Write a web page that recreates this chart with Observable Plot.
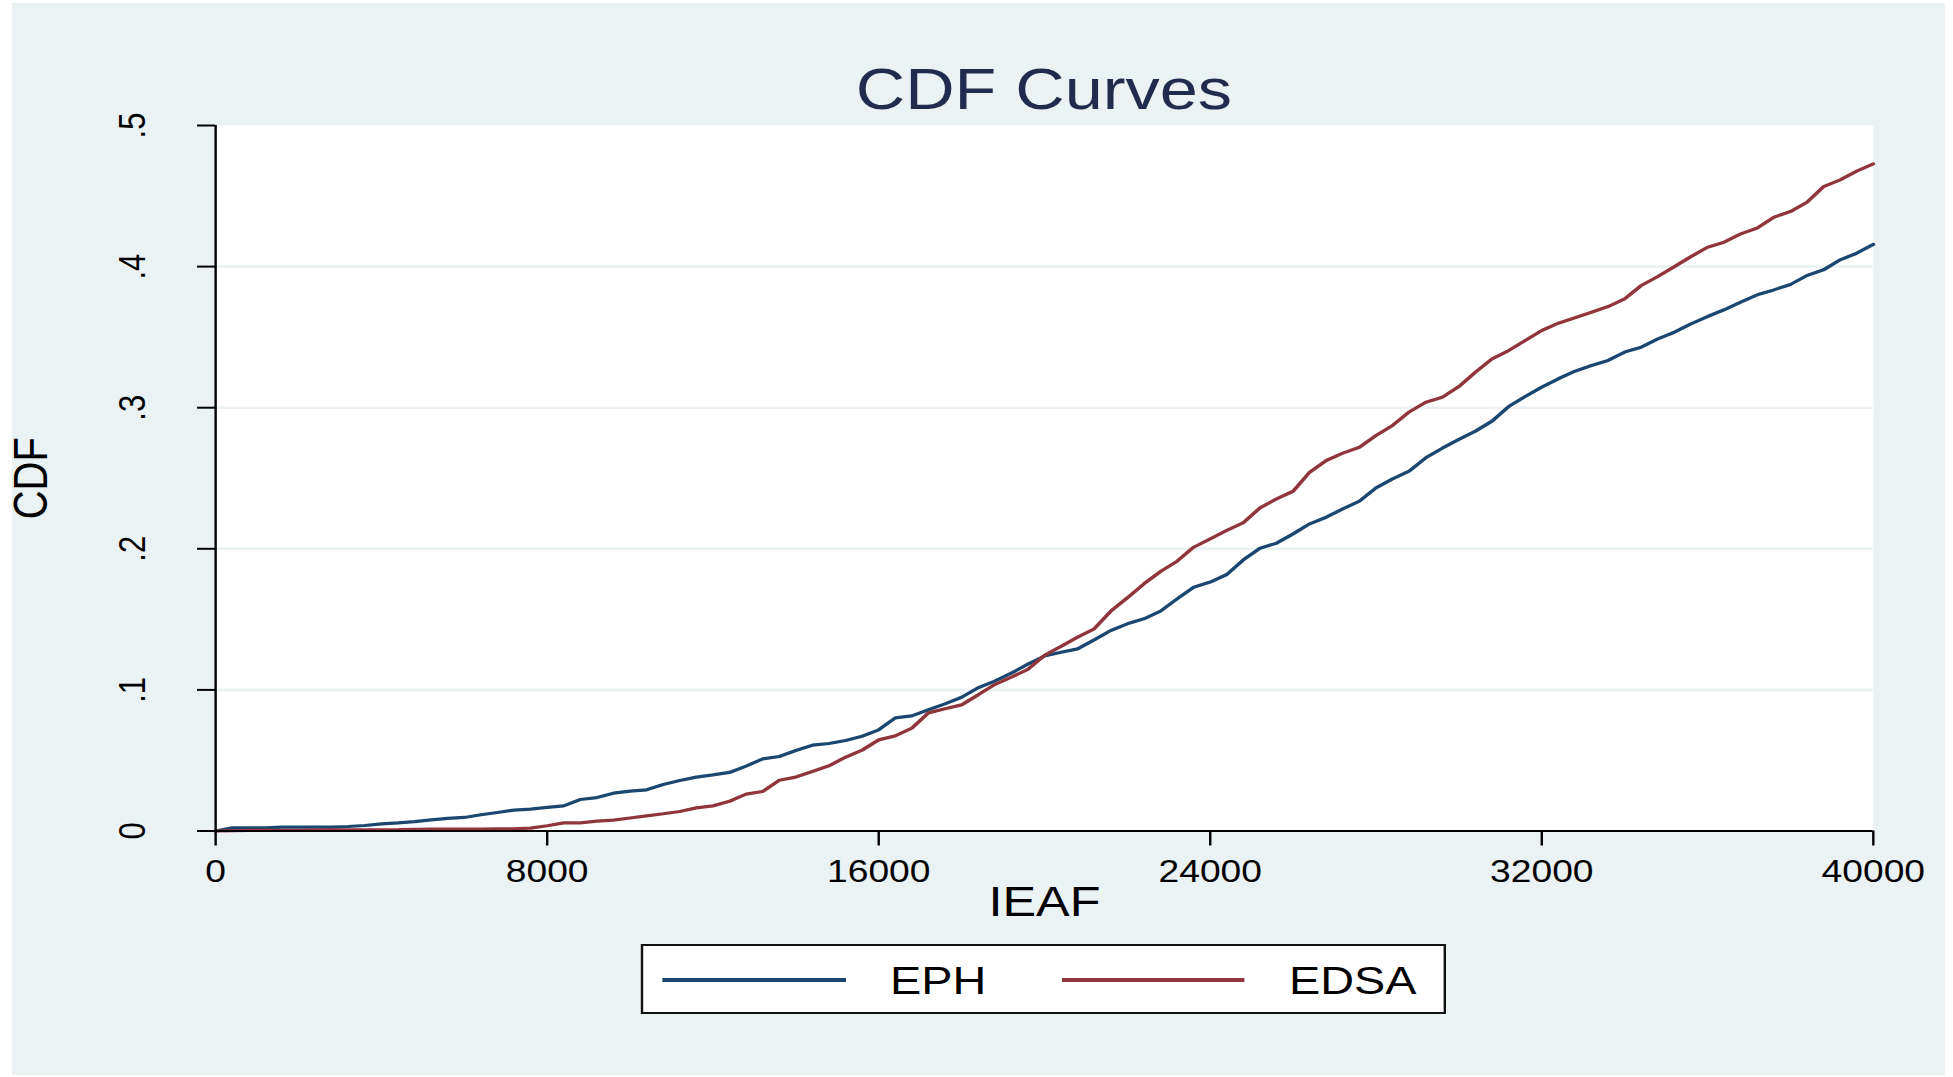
<!DOCTYPE html>
<html>
<head>
<meta charset="utf-8">
<script src="https://cdn.jsdelivr.net/npm/d3@7"></script>
<script src="https://cdn.jsdelivr.net/npm/@observablehq/plot@0.6"></script>
<style>
html, body { margin: 0; padding: 0; background: #ffffff; width: 1953px; height: 1077px; overflow: hidden;
  font-family: "Liberation Sans", Arial, Helvetica, sans-serif; }
#panel { position: absolute; left: 12px; top: 3px; width: 1933px; height: 1072px; background: #eaf2f3; }
#stage { position: absolute; left: 0; top: 0; width: 1627.5px; height: 1077px; transform: scaleX(1.2); transform-origin: 0 0; }
#title { position: absolute; left: 179.2px; width: 1381.4px; top: 60.7px; text-align: center;
  font-size: 57px; line-height: 57px; color: #1f2c4d; white-space: nowrap; }
#chart { position: absolute; left: 0; top: 100px; }
#legend { position: absolute; left: 534.4px; top: 944.3px; width: 670.3px; height: 69.4px; box-sizing: border-box;
  border: 2px solid #111; background: #fff; }
.lg-line { position: absolute; top: 31.7px; width: 152.3px; height: 4px; }
.lg-text { position: absolute; top: 14.7px; font-size: 39px; line-height: 39px; color: #000; white-space: nowrap; }
</style>
</head>
<body>
<div id="panel"></div>
<div id="stage">
  <div id="title">CDF Curves</div>
  <div id="chart"></div>
  <div id="legend"></div>
</div>
<script>
// ---- data ----
const xValues = [0,400,800,1200,1600,2000,2400,2800,3200,3600,4000,4400,4800,5200,5600,6000,6400,6800,7200,7600,
  8000,8400,8800,9200,9600,10000,10400,10800,11200,11600,12000,12400,12800,13200,13600,14000,14400,14800,15200,15600,
  16000,16400,16800,17200,17600,18000,18400,18800,19200,19600,20000,20400,20800,21200,21600,22000,22400,22800,23200,23600,
  24000,24400,24800,25200,25600,26000,26400,26800,27200,27600,28000,28400,28800,29200,29600,30000,30400,30800,31200,31600,
  32000,32400,32800,33200,33600,34000,34400,34800,35200,35600,36000,36400,36800,37200,37600,38000,38400,38800,39200,39600,40000];

const ephCdf = [0,0.0022,0.0022,0.0022,0.0027,0.0027,0.0027,0.0027,0.0032,0.0039,0.0051,0.0058,0.0067,0.0079,0.0089,0.0096,
  0.0115,0.0131,0.0148,0.0155,0.0167,0.0178,0.0223,0.0237,0.0268,0.0283,0.0292,0.033,0.0358,0.0382,0.0398,0.0415,0.046,
  0.0511,0.0528,0.057,0.0608,0.062,0.0641,0.0672,0.0717,0.0802,0.0816,0.0859,0.0901,0.0948,0.1015,0.1062,0.1119,0.1182,
  0.124,0.1267,0.1291,0.1355,0.1421,0.1468,0.1504,0.1558,0.1645,0.1728,0.1764,0.1818,0.1922,0.2004,0.204,0.2106,0.2177,
  0.2224,0.2283,0.2338,0.2432,0.2496,0.255,0.2645,0.2713,0.2775,0.2834,0.2905,0.3008,0.3079,0.3146,0.3205,0.3259,0.3299,
  0.3335,0.3394,0.3429,0.3488,0.3535,0.3594,0.3646,0.3694,0.3748,0.38,0.3835,0.3873,0.3937,0.3977,0.4048,0.4095,0.4157];

const edsaCdf = [0,0.0003,0.0004,0.0004,0.0005,0.0005,0.0007,0.0008,0.0008,0.0008,0.0009,0.001,0.0012,0.0013,0.0013,0.0014,
  0.0014,0.0015,0.0016,0.002,0.0037,0.0058,0.0058,0.007,0.0077,0.0092,0.0107,0.0122,0.0138,0.0164,0.0178,0.0211,0.0261,
  0.028,0.036,0.0382,0.0422,0.0462,0.0523,0.0573,0.0646,0.0674,0.0729,0.0837,0.0866,0.0894,0.0965,0.1038,0.109,0.1145,
  0.1245,0.1308,0.1374,0.1433,0.1558,0.1653,0.1752,0.1839,0.1912,0.2011,0.2071,0.213,0.2186,0.229,0.2354,0.2408,0.2543,
  0.2626,0.2678,0.272,0.2803,0.2874,0.297,0.3039,0.3074,0.315,0.3252,0.3346,0.3405,0.3476,0.3547,0.3599,0.3637,0.3677,
  0.3717,0.3771,0.3866,0.393,0.4,0.4071,0.4137,0.4173,0.4232,0.4274,0.435,0.439,0.4456,0.4567,0.4615,0.4677,0.4728];

const seriesNames = ["EPH", "EDSA"];
const seriesColors = ["#1a476f", "#90353b"];
const xTicks = [0, 8000, 16000, 24000, 32000, 40000];
const xTickLabels = ["0", "8000", "16000", "24000", "32000", "40000"];
const yTicks = [0, 0.1, 0.2, 0.3, 0.4, 0.5];
const yTickLabels = ["0", ".1", ".2", ".3", ".4", ".5"];
const gridValues = [0.1, 0.2, 0.3, 0.4];
const xTitle = "IEAF";
const yTitle = "CDF";

// ---- build table ----
const rows = [];
[ephCdf, edsaCdf].forEach((vals, s) => {
  xValues.forEach((x, i) => rows.push({ x, y: vals[i], series: seriesNames[s] }));
});
const yTickData = yTicks.map((v, i) => ({ v, label: yTickLabels[i] }));

const font = "Liberation Sans, Arial, Helvetica, sans-serif";
const chart = Plot.plot({
  width: 1627.5,
  height: 830,
  marginLeft: 179.2,
  marginRight: 66.9,
  marginTop: 25,
  marginBottom: 99.5,
  style: { background: "transparent", overflow: "visible", fontFamily: font, color: "#000" },
  x: { domain: [0, 40000] },
  y: { domain: [0, 0.5] },
  color: { domain: seriesNames, range: seriesColors },
  marks: [
    Plot.frame({ fill: "#ffffff", stroke: null }),
    Plot.ruleY(gridValues, { stroke: "#eaf2f3", strokeWidth: 2.6 }),
    Plot.line(rows, { x: "x", y: "y", z: "series", stroke: "series", strokeWidth: 3.2, strokeLinejoin: "miter" }),
    Plot.ruleX([0], { stroke: "#000", strokeWidth: 2 }),
    Plot.ruleY([0], { stroke: "#000", strokeWidth: 2 }),
    Plot.axisX({ ticks: xTicks, tickSize: 15, tickPadding: 14, fontSize: 31, strokeWidth: 2,
      tickFormat: d => xTickLabels[xTicks.indexOf(d)], label: null }),
    Plot.axisY({ ticks: yTicks, tickSize: 15, strokeWidth: 2, tickFormat: () => "", label: null }),
    Plot.text(yTickData, { y: "v", text: "label", frameAnchor: "left", dx: -68.8, rotate: -90,
      textAnchor: "middle", lineAnchor: "middle", fontSize: 31, fill: "#000" }),
    Plot.text([xTitle], { frameAnchor: "bottom", dy: 72, lineAnchor: "middle", fontSize: 42, fill: "#000" }),
    Plot.text([yTitle], { frameAnchor: "left", dx: -153.4, rotate: -90, textAnchor: "middle",
      lineAnchor: "middle", fontSize: 40, fill: "#000" })
  ]
});
document.getElementById("chart").appendChild(chart);

// ---- legend ----
const legend = document.getElementById("legend");
const lgLineLeft = [16.1, 348.6];
const lgTextLeft = [205.3, 537.75];
seriesNames.forEach((name, i) => {
  const ln = document.createElement("div");
  ln.className = "lg-line";
  ln.style.left = lgLineLeft[i] + "px";
  ln.style.background = seriesColors[i];
  legend.appendChild(ln);
  const tx = document.createElement("div");
  tx.className = "lg-text";
  tx.style.left = lgTextLeft[i] + "px";
  tx.textContent = name;
  legend.appendChild(tx);
});
</script>
</body>
</html>
